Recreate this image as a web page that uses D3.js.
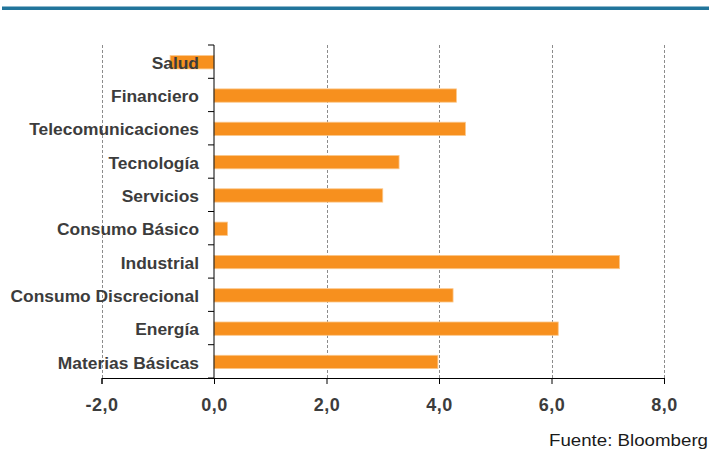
<!DOCTYPE html>
<html>
<head>
<meta charset="utf-8">
<script src="https://cdn.jsdelivr.net/npm/d3@7/dist/d3.min.js"></script>
<style>
  html, body { margin: 0; padding: 0; background: #fff; }
  svg { display: block; }
</style>
</head>
<body>
<svg id="chart" width="711" height="449"></svg>
<script>
// Sector returns (%), top to bottom
const categories = ["Salud", "Financiero", "Telecomunicaciones", "Tecnología", "Servicios",
  "Consumo Básico", "Industrial", "Consumo Discrecional", "Energía", "Materias Básicas"];
const values = [-0.78, 4.31, 4.47, 3.29, 3.0, 0.24, 7.21, 4.25, 6.12, 3.98];
const xTicks = [-2, 0, 2, 4, 6, 8];
const xTickLabels = ["-2,0", "0,0", "2,0", "4,0", "6,0", "8,0"];
const source = "Fuente: Bloomberg";

const svg = d3.select("#chart");
const plotLeft = 101.5, plotRight = 664, plotTop = 45, plotBottom = 378;

const x = d3.scaleLinear().domain([-2, 8]).range([plotLeft, plotRight]);
const y = d3.scaleBand().domain(categories).range([plotTop + 0.6, plotBottom + 0.6])
  .paddingInner(0.6).paddingOuter(0.3);

// header rule
svg.append("rect").attr("x", 2).attr("y", 6.5).attr("width", 707).attr("height", 3.5).attr("fill", "#21759b");

// vertical dashed gridlines
svg.append("g").selectAll("line")
  .data(xTicks.filter(d => d !== 0))
  .join("line")
  .attr("x1", d => Math.round(x(d)) + 0.5).attr("x2", d => Math.round(x(d)) + 0.5)
  .attr("y1", plotTop).attr("y2", plotBottom)
  .attr("stroke", "#8c8c8c").attr("stroke-width", 1).attr("stroke-dasharray", "3,2");

// bars
svg.append("g").selectAll("rect")
  .data(categories.map((c, i) => ({ c, v: values[i] })))
  .join("rect")
  .attr("x", d => x(Math.min(0, d.v)))
  .attr("width", d => Math.abs(x(d.v) - x(0)))
  .attr("y", d => y(d.c))
  .attr("height", y.bandwidth())
  .attr("fill", "#f7901e")
  .attr("stroke", "#fbc88c").attr("stroke-width", 0.8);

// x axis
const xAxis = d3.axisBottom(x).tickValues(xTicks)
  .tickFormat((d, i) => xTickLabels[i]).tickSize(6).tickPadding(14);
const gx = svg.append("g").attr("transform", `translate(0,${plotBottom})`).call(xAxis);
gx.select(".domain").attr("stroke", "#000");
gx.selectAll(".tick line").attr("stroke", "#000");
gx.selectAll(".tick text")
  .attr("font-family", "Liberation Sans, Arial, sans-serif")
  .attr("font-weight", "bold").attr("font-size", 18).attr("fill", "#3c3c3c")
  .attr("letter-spacing", 0.5);

// y axis at zero, ticks between categories
const yAxisX = x(0);
const gy = svg.append("g");
gy.append("line").attr("x1", yAxisX).attr("x2", yAxisX).attr("y1", plotTop).attr("y2", plotBottom)
  .attr("stroke", "#000");
const boundaries = d3.range(categories.length + 1)
  .map(i => plotTop + i * (plotBottom - plotTop) / categories.length);
gy.selectAll("line.tk").data(boundaries).join("line").attr("class", "tk")
  .attr("x1", yAxisX - 6).attr("x2", yAxisX).attr("y1", d => d).attr("y2", d => d)
  .attr("stroke", "#000");

// category labels (drawn above bars)
svg.append("g").selectAll("text")
  .data(categories)
  .join("text")
  .attr("x", 199)
  .attr("y", d => y(d) + y.bandwidth() / 2)
  .attr("dy", "0.38em")
  .attr("text-anchor", "end")
  .attr("font-family", "Liberation Sans, Arial, sans-serif")
  .attr("font-weight", "bold").attr("font-size", 17.4).attr("fill", "#3c3c3c")
  .text(d => d);

// source note
svg.append("text").attr("x", 708).attr("y", 446).attr("text-anchor", "end")
  .attr("font-family", "Liberation Sans, Arial, sans-serif").attr("font-size", 16)
  .attr("textLength", 159).attr("lengthAdjust", "spacingAndGlyphs")
  .attr("fill", "#1a1a1a").text(source);
</script>
</body>
</html>
